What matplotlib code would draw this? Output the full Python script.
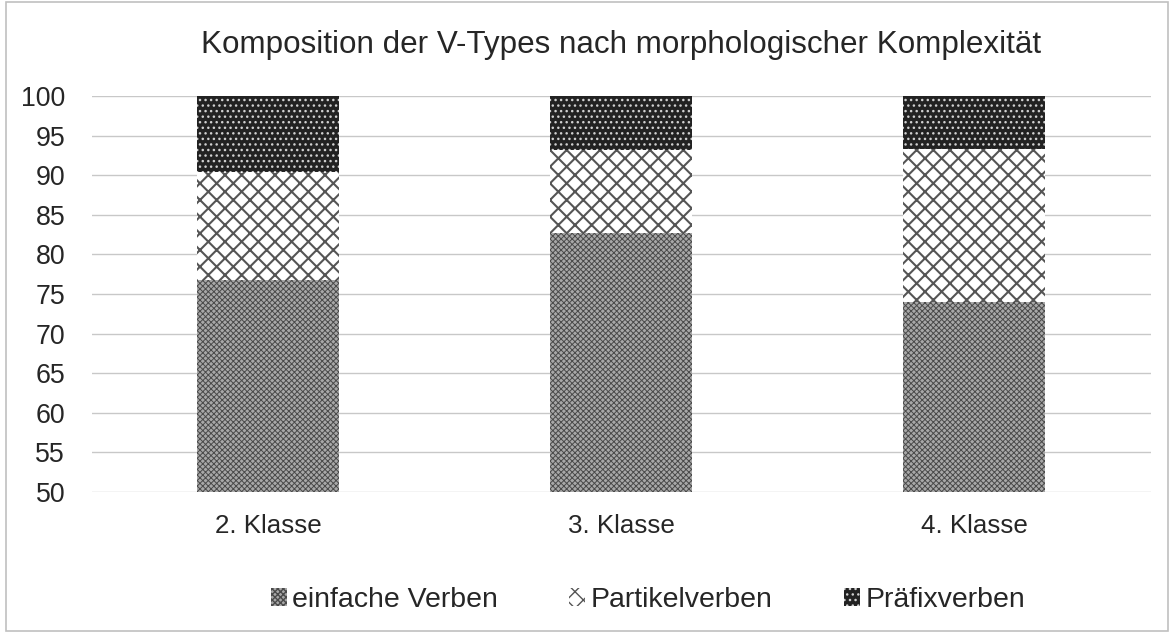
import matplotlib.pyplot as plt
import matplotlib.patches as mpatches
import numpy as np

plt.rcParams['font.family'] = ['Liberation Sans', 'DejaVu Sans']

# data
klassen = ['2. Klasse', '3. Klasse', '4. Klasse']
einfache = [76.8, 82.7, 74.0]
partikel = [13.6, 10.5, 19.3]
praefix = [9.6, 6.8, 6.7]
y_ticks = list(range(50, 101, 5))

txt = '#262626'

fig = plt.figure(figsize=(11.74, 6.33), dpi=100)
ax = fig.add_axes([0.078, 0.2227, 0.902, 0.6256])

x = np.arange(len(klassen))
w = 0.4
bottom2 = np.array(einfache)
bottom3 = bottom2 + np.array(partikel)

with plt.rc_context({'hatch.linewidth': 0.7}):
    b1 = ax.bar(x, einfache, w, color='#a8a8a8', edgecolor='#4a4a4a',
                hatch='xxxxxx', linewidth=0, label='einfache Verben', zorder=3)
with plt.rc_context({'hatch.linewidth': 1.5}):
    b2 = ax.bar(x, partikel, w, bottom=bottom2, color='white', edgecolor='#555555',
                hatch='xx', linewidth=0, label='Partikelverben', zorder=3)
with plt.rc_context({'hatch.linewidth': 1.0}):
    b3 = ax.bar(x, praefix, w, bottom=bottom3, color='#222222', edgecolor='#d0d0d0',
                hatch='...', linewidth=0, label='Präfixverben', zorder=3)

ax.set_ylim(50, 100)
ax.set_xlim(-0.5, len(klassen) - 0.5)
ax.set_yticks(y_ticks)
ax.set_xticks(x)
ax.set_xticklabels(klassen)
ax.tick_params(axis='both', length=0, colors=txt)
ax.tick_params(axis='y', pad=19, labelsize=19.3)
ax.tick_params(axis='x', pad=16, labelsize=18.7)
ax.grid(axis='y', color='#c8c8c8', linewidth=1, zorder=0)
for s in ax.spines.values():
    s.set_visible(False)

fig.text(0.529, 0.929, 'Komposition der V-Types nach morphologischer Komplexität',
         fontsize=22.6, color=txt, ha='center', va='center')

fig.legend(handles=[b1, b2, b3], loc='center', bbox_to_anchor=(0.552, 0.052),
           ncol=3, frameon=False, fontsize=20.5, handlelength=0.55, handleheight=0.55,
           handletextpad=0.2, columnspacing=2.5, labelcolor=txt)

fig.patches.append(mpatches.Rectangle((0.005, 0.003), 0.99, 0.994, transform=fig.transFigure,
                                      fill=False, edgecolor='#c0c0c0', linewidth=1.2))

fig.savefig('out.png', dpi=100)
